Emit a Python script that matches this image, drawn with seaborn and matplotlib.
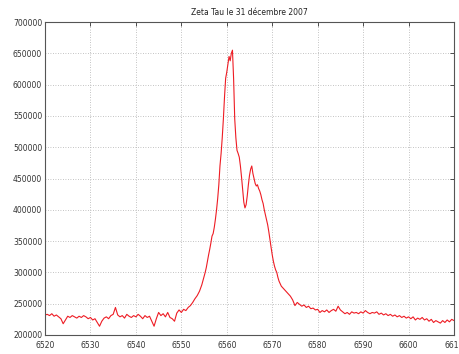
import numpy as np
import pandas as pd
import matplotlib
matplotlib.use("Agg")
import matplotlib.pyplot as plt
import seaborn as sns

title = "Zeta Tau le 31 décembre 2007"

# Baseline blue wing, 0.5 A steps (flux in thousands)
wl_blue = np.arange(6520.0, 6555.01, 0.5)
flux_blue = [232, 233, 231, 234, 230, 232, 229, 226, 218, 224, 230, 228, 231, 229, 227, 230,
             228, 231, 229, 226, 228, 224, 226, 220, 214, 222, 227, 229, 226, 231, 233, 244,
             232, 229, 231, 227, 233, 230, 228, 231, 229, 233, 230, 226, 231, 228, 230, 222,
             214, 226, 236, 231, 234, 229, 236, 228, 226, 222, 235, 240, 236, 241, 239, 244,
             247, 252, 258, 263, 270, 280, 293]

# Line core, 0.25 A steps
wl_core = np.arange(6555.25, 6572.01, 0.25)
flux_core = [300, 308, 318, 328, 337, 347, 358, 362, 372, 385, 400, 418, 440, 470, 490, 515,
             545, 580, 610, 620, 632, 645, 638, 650, 655, 610, 545, 515, 495, 490, 484, 470,
             452, 432, 412, 403, 408, 422, 440, 455, 465, 470, 458, 450, 442, 438, 440, 434,
             430, 424, 416, 410, 400, 392, 384, 376, 365, 352, 340, 328, 318, 310, 304, 300,
             292, 286, 282, 278]

# Red wing, 0.5 A steps
wl_red = np.arange(6572.5, 6610.01, 0.5)
flux_red = [274, 270, 266, 262, 256, 247, 252, 249, 246, 248, 244, 246, 242, 243, 240, 241,
            236, 239, 237, 240, 236, 239, 241, 238, 246, 240, 237, 234, 236, 233, 237, 235,
            236, 234, 237, 235, 239, 236, 234, 236, 235, 237, 233, 235, 232, 234, 231, 233,
            230, 232, 229, 231, 228, 230, 227, 229, 226, 229, 224, 227, 225, 228, 224, 226,
            222, 225, 220, 223, 221, 219, 223, 220, 224, 221, 225, 223]

xticks = list(range(6520, 6611, 10))
yticks = list(range(200000, 700001, 50000))

wl = np.concatenate([wl_blue, wl_core, wl_red])
flux = np.concatenate([flux_blue, flux_core, flux_red]) * 1000.0
df = pd.DataFrame({"wl": wl, "flux": flux})

sns.set_style("white")
plt.rcParams["font.family"] = ["DejaVu Sans"]

fig = plt.figure(figsize=(4.6, 3.54), dpi=100)
ax = fig.add_axes([45 / 460, 19 / 354, 409 / 460, 313 / 354])

sns.lineplot(data=df, x="wl", y="flux", ax=ax, color="#ee1c24", lw=0.8,
             estimator=None, sort=False)

ax.set_xlim(6520, 6610)
ax.set_ylim(200000, 700000)
ax.set_xticks(xticks)
ax.set_yticks(yticks)
ax.set_xticklabels([str(t) for t in xticks])
ax.set_yticklabels([str(t) for t in yticks])
ax.set_xlabel("")
ax.set_ylabel("")
ax.grid(True, color="#b0b0b0", linestyle=(0, (1, 2)), linewidth=0.6)
ax.tick_params(direction="in", length=3, width=0.6, top=True, right=True,
               labelsize=5.5, colors="#333333", pad=2)
ax.tick_params(axis="x", pad=4)
for s in ax.spines.values():
    s.set_color("#555555")
    s.set_linewidth(0.8)
ax.set_title(title, fontsize=5.5, color="#222222", pad=5)

fig.savefig("out.png", dpi=100)
